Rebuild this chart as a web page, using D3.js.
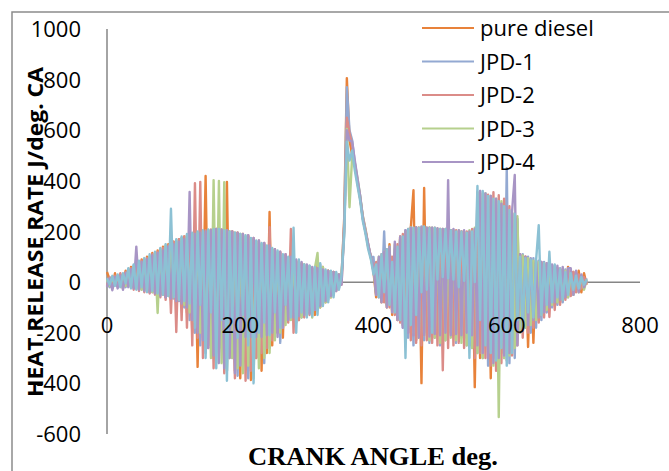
<!DOCTYPE html>
<html><head><meta charset="utf-8">
<script src="https://cdn.jsdelivr.net/npm/d3@7"></script>
<style>
html,body{margin:0;padding:0;background:#fff;}
svg{display:block;}
</style></head>
<body>
<svg id="chart" width="669" height="471"></svg>
<script>
// ---- data ----
const crankAngle = d3.range(0, 721, 4); // crank angle grid, deg
const seriesNames = ["pure diesel", "JPD-1", "JPD-2", "JPD-3", "JPD-4"];
const xTicks = [0, 200, 400, 600, 800];
const yTicks = [-600, -400, -200, 0, 200, 400, 600, 800, 1000];

const pureDiesel = [
 40, 10, -20, 35, -15, 30, -25, 45, -10, 60,
 -20, 75, -30, 90, -25, 100, -40, 115, -45, 125,
 -50, 140, -60, 150, -70, 160, -80, 170, -100, 180,
 -120, 190, -200, 195, -335, 200, -150, 419, -250, 205,
 -300, 210, -200, 205, -330, 396, -281, 200, -350, 195,
 -380, 190, -250, 180, -387, 170, -300, 160, -350, 150,
 -280, 277, -250, 130, -200, 115, -220, 105, -150, 95,
 -120, 85, -150, 75, -130, 65, -120, 55, -130, 70,
 -100, 60, -80, 45, -60, 40, -30, 30, 20, 250,
 806, 560, 500, 460, 390, 330, 250, 200, 140, 100,
 40, -60, 90, -80, 120, -100, 150, -130, 110, -150,
 180, -170, 200, -200, 215, 363, -230, 215, -399, 372,
 -200, 215, -220, 210, -200, 210, -190, 205, -200, 205,
 -210, 200, -200, 200, -220, 195, -250, 200, -415, 215,
 -300, 205, -250, 200, -380, 195, -300, 190, -280, 180,
 -250, 170, -230, 160, -200, 110, -180, 100, -256, 90,
 -240, 80, -150, 75, -120, 70, -100, 65, -90, 55,
 -80, 50, -60, 60, -50, 40, -30, 45, -40, 35,
 -10];

const jpd1 = [
 5, -20, 20, -5, 25, -15, 30, -20, 50, -20,
 65, -25, 80, -30, 90, -35, 100, -40, 115, -45,
 130, -50, 140, -55, 150, -65, 160, -75, 175, -100,
 185, -150, 190, -200, 195, -250, 200, -280, 205, -200,
 205, -320, 205, -260, 200, -350, 200, -300, 195, -370,
 190, -330, 180, -380, 170, -360, 160, -300, 150, -320,
 140, -260, 130, -200, 120, -240, 105, -150, 95, -130,
 85, -160, 80, -140, 70, -130, 65, -120, 55, -100,
 70, -90, 45, -70, 40, -50, 35, -25, 25, 230,
 770, 600, 560, 470, 400, 340, 250, 200, 150, 99,
 99, -50, 80, -70, 200, -90, 120, -110, 130, -140,
 170, -180, 205, -220, 215, -250, 215, -210, 220, -230,
 215, -240, 215, -220, 210, -250, 210, -230, 205, -200,
 205, -240, 200, -220, 200, -250, 200, -260, 210, -280,
 360, -300, 350, -330, 340, -300, 320, -350, 310, -300,
 450, -320, 270, -300, 250, -200, 110, -180, 100, -200,
 95, -180, 85, -150, 80, -120, 75, -100, 65, -90,
 55, -80, 50, -60, 45, -50, 35, -35, 25, -20,
 15];

const jpd2 = [
 -15, 20, -25, 25, -10, 35, -20, 40, -15, 55,
 -30, 70, -35, 85, -40, 95, -45, 110, -50, 120,
 -60, 135, -70, 145, -122, 160, -197, 170, -150, 180,
 -180, 195, -250, 391, -220, 396, -300, 205, -260, 208,
 -340, 210, -280, 208, -360, 205, -300, 200, -380, 195,
 -320, 190, -390, 185, -350, 175, -300, 165, -280, 155,
 -260, 217, -230, 130, -200, 120, -180, 110, -160, 210,
 -200, 80, -150, 70, -140, 65, -130, 55, -110, 60,
 -90, 50, -70, 45, -55, 40, -35, 30, -10, 220,
 650, 590, 540, 460, 400, 330, 260, 210, 150, 100,
 50, 80, -60, 110, -80, 130, -100, 100, -130, 150,
 -160, 190, -200, 210, -230, 215, -240, 215, -250, 220,
 -230, 215, -240, 215, -250, 210, -348, 210, -260, 205,
 -250, 205, -240, 200, -260, 200, -250, 210, -300, 355,
 -280, 350, -300, 345, -330, 355, -350, 343, -320, 330,
 -310, 300, -290, 270, -250, 110, -220, 100, -200, 90,
 -180, 85, -160, 80, -140, 75, -138, 65, -110, 55,
 -90, 50, -70, 45, -55, 40, -40, 30, -25, 20,
 -5];

const jpd3 = [
 10, -15, 15, -10, 20, -5, 30, -15, 45, -20,
 60, -25, 75, -30, 85, -35, 100, -40, 110, -122,
 130, -50, 145, -55, 155, -60, 165, -70, 175, -90,
 185, -120, 190, -160, 195, -200, 200, -240, 205, -300,
 403, -250, 400, -320, 395, -350, 200, -300, 195, -340,
 190, -360, 180, -330, 170, -380, 160, -340, 150, -300,
 140, -280, 130, -230, 115, -200, 105, -170, 95, -150,
 90, -130, 80, -140, 70, -135, 60, -140, 55, 115,
 -100, 60, -80, 45, -60, 35, -30, 30, 20, 200,
 605, 296, 500, 470, 410, 340, 260, 205, 145, 95,
 45, -40, 100, -70, 120, -90, 140, -110, 150, -130,
 170, -150, 200, -180, 217, -200, 217, -220, 217, -210,
 215, -230, 215, -220, 212, -240, 210, -230, 210, -220,
 205, -230, 205, -240, 200, -250, 205, -260, 215, -280,
 352, -300, 350, -280, 340, -330, 330, -533, 320, -300,
 300, -290, 275, -260, 260, -200, 105, -180, 95, -170,
 85, -150, 80, -130, 75, -110, 70, -90, 60, -80,
 50, -70, 45, -60, 40, -50, 30, -40, 25, -30,
 10];

const jpd4 = [
 -20, 15, -32, 20, -25, 25, -30, 35, -20, 50,
 -25, 140, -30, 80, -35, 90, -40, 105, -45, 115,
 -55, 125, -60, 140, -65, 150, -75, 160, -85, 170,
 -100, 356, -150, 190, -200, 195, -230, 200, -260, 205,
 -290, 210, -320, 208, -340, 205, -300, 200, -360, 195,
 -330, 190, -217, 185, -217, 175, -217, 165, -217, 155,
 -210, 145, -200, 130, -217, 120, -180, 110, -150, 100,
 -140, 90, -135, 80, -130, 70, -125, 60, -110, 55,
 -95, 50, -75, 45, -55, 40, -35, 30, -10, 200,
 600, 560, 555, 480, 410, 340, 255, 200, 150, 100,
 60, -50, 100, -80, 120, -100, 140, -120, 160, -150,
 180, -180, 205, -200, 215, -210, 217, -220, 217, -210,
 215, -215, 215, -205, 213, -210, 210, -200, 403, -210,
 210, -205, 205, -210, 205, -200, 200, -210, 210, -250,
 360, -280, 350, -300, 340, -320, 330, -300, 310, -290,
 300, -280, 280, 423, -250, 110, -190, 100, -170, 95,
 -150, 85, -140, 80, -120, 75, -100, 70, -80, 65,
 -70, 60, -60, 55, 55, -50, 45, -40, 30, -20,
 5];

// sixth series (aqua) whose legend entry is not shown in the original
const seriesAqua = [
 15, -10, 25, -15, 30, -20, 35, -5, 55, -25,
 70, -30, 85, -20, 95, -40, 110, -35, 120, -45,
 135, -50, 150, -55, 290, -60, 170, -70, 180, -75,
 190, -85, 195, -180, 200, -90, 205, -300, 208, -120,
 210, -340, 210, -150, 205, -390, 200, -160, 195, -220,
 190, -130, 185, -250, 175, -400, 165, -200, 155, -160,
 145, -210, 135, -120, 125, -180, 110, -90, 100, -140,
 215, -200, 90, -120, 70, -140, 65, -135, 60, -130,
 75, -95, 50, -80, 45, -60, 40, -30, 25, 180,
 555, 480, 520, 440, 380, 320, 240, 190, 130, 90,
 30, 70, -60, 110, -40, 130, -90, 80, -120, 140,
 -150, 180, -300, 210, -170, 215, -130, 215, -40, 220,
 -30, 215, -200, 215, 10, 210, 20, 210, 15, 205,
 10, 200, -20, 200, 5, 195, -300, 200, 0, 380,
 -150, 360, -250, 340, -280, 330, -310, 320, -260, 300,
 -330, 285, -280, 270, -150, 100, -180, 95, -120, 90,
 -140, 85, 225, -130, 75, -90, 120, -80, 70, -60,
 50, -70, 40, -50, 35, -30, 25, -25, 20, -10,
 10];

const seriesColors = ["#E8823A", "#93A9D2", "#DB8C88", "#B6D08D", "#A895C5"];
const aquaColor = "#8CC1D4";

// ---- drawing ----
const svg = d3.select("#chart");
svg.append("rect").attr("width", 669).attr("height", 471).attr("fill", "#fff");

// outer chart-area border (left & top visible)
svg.append("path").attr("d", "M12,471 L12,12 L669,12")
  .attr("fill", "none").attr("stroke", "#8C8C8C").attr("stroke-width", 1.5);

const x = d3.scaleLinear().domain([0, 800]).range([107, 640]);
const y = d3.scaleLinear().domain([-600, 1000]).range([434, 29]);

// axes lines (drawn beneath the data)
svg.append("line").attr("x1", x(0)).attr("x2", x(0)).attr("y1", y(1000)).attr("y2", y(-600))
  .attr("stroke", "#868686").attr("stroke-width", 1.5);
svg.append("line").attr("x1", x(0)).attr("x2", x(800)).attr("y1", y(0)).attr("y2", y(0))
  .attr("stroke", "#868686").attr("stroke-width", 1.5);

const line = d3.line().x((d, i) => x(crankAngle[i])).y(d => y(d));

const allSeries = [pureDiesel, jpd1, jpd2, jpd3, jpd4];
const g = svg.append("g");
allSeries.forEach((s, k) => {
  g.append("path").datum(s).attr("d", line)
    .attr("fill", "none").attr("stroke", seriesColors[k])
    .attr("stroke-width", 2.4).attr("stroke-linejoin", "round");
});
g.append("path").datum(seriesAqua).attr("d", line)
  .attr("fill", "none").attr("stroke", aquaColor)
  .attr("stroke-width", 2.4).attr("stroke-linejoin", "round");

const font = "'Open Sans', sans-serif";
// y tick labels
svg.append("g").selectAll("text").data(yTicks).join("text")
  .attr("x", 81).attr("y", d => y(d) + 8)
  .attr("text-anchor", "end").attr("font-family", font).attr("font-size", 22)
  .attr("fill", "#000").text(d => d);
// x tick labels
svg.append("g").selectAll("text").data(xTicks).join("text")
  .attr("x", d => x(d)).attr("y", 333)
  .attr("text-anchor", "middle").attr("font-family", font).attr("font-size", 22)
  .attr("fill", "#000").text(d => d);

// axis titles
svg.append("text").attr("transform", "translate(43,232) rotate(-90)")
  .attr("text-anchor", "middle").attr("font-family", font).attr("font-weight", "bold")
  .attr("font-size", 22).attr("textLength", 330).attr("lengthAdjust", "spacingAndGlyphs")
  .attr("fill", "#000").text("HEAT RELEASE RATE J/deg. CA");
svg.append("text").attr("x", 373).attr("y", 465)
  .attr("text-anchor", "middle").attr("font-family", "'Liberation Serif', 'Times New Roman', serif")
  .attr("font-weight", "bold").attr("font-size", 25.5)
  .attr("textLength", 250).attr("lengthAdjust", "spacingAndGlyphs")
  .attr("fill", "#000").text("CRANK ANGLE deg.");

// legend
const lg = svg.append("g");
seriesNames.forEach((name, k) => {
  const ly = 28 + k * 33.5;
  lg.append("line").attr("x1", 422).attr("x2", 474).attr("y1", ly).attr("y2", ly)
    .attr("stroke", seriesColors[k]).attr("stroke-width", 2);
  lg.append("text").attr("x", 480).attr("y", ly + 8)
    .attr("font-family", font).attr("font-size", 22).attr("fill", "#000").text(name);
});
</script>
</body></html>
